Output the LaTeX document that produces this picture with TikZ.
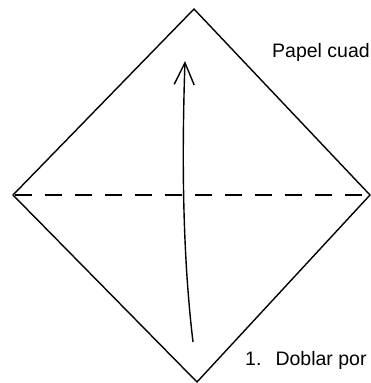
\documentclass[tikz,border=0pt]{standalone}
\usepackage{fontspec}
\setsansfont{Liberation Sans}
\usetikzlibrary{arrows.meta}
\begin{document}
\begin{tikzpicture}[
  x=1pt, y=-1pt,
  edge/.style={line width=1.4pt, line join=miter},
  fold/.style={line width=1.4pt, dash pattern=on 17pt off 13pt, dash phase=-2pt},
  arrow/.style={line width=1.4pt, -{Straight Barb[length=22pt, width=20pt, line width=1.4pt]}},
  caption/.style={anchor=base west, inner sep=0pt, font=\sffamily\fontsize{19.5}{23}\selectfont}
]
\useasboundingbox (0,0) rectangle (371,383);
\clip (0,0) rectangle (371,383);
% corners of the square sheet
\coordinate (top) at (194,9);
\coordinate (left) at (13,195);
\coordinate (right) at (370,195);
\coordinate (bottom) at (197,382);
\draw[edge] (top) -- (right) -- (bottom) -- (left) -- cycle;
\draw[fold] (left) -- (right);
% fold arrow
\coordinate (start) at (193,342);
\coordinate (tip) at (185,61);
\draw[arrow] (start) .. controls (182,250) and (182,150) .. (tip);
\node[caption] (paper) at (272,57) {Papel cuad};
\node[caption] (step1) at (245,365) {1.\hspace{0.72em}Doblar por};
\end{tikzpicture}
\end{document}
